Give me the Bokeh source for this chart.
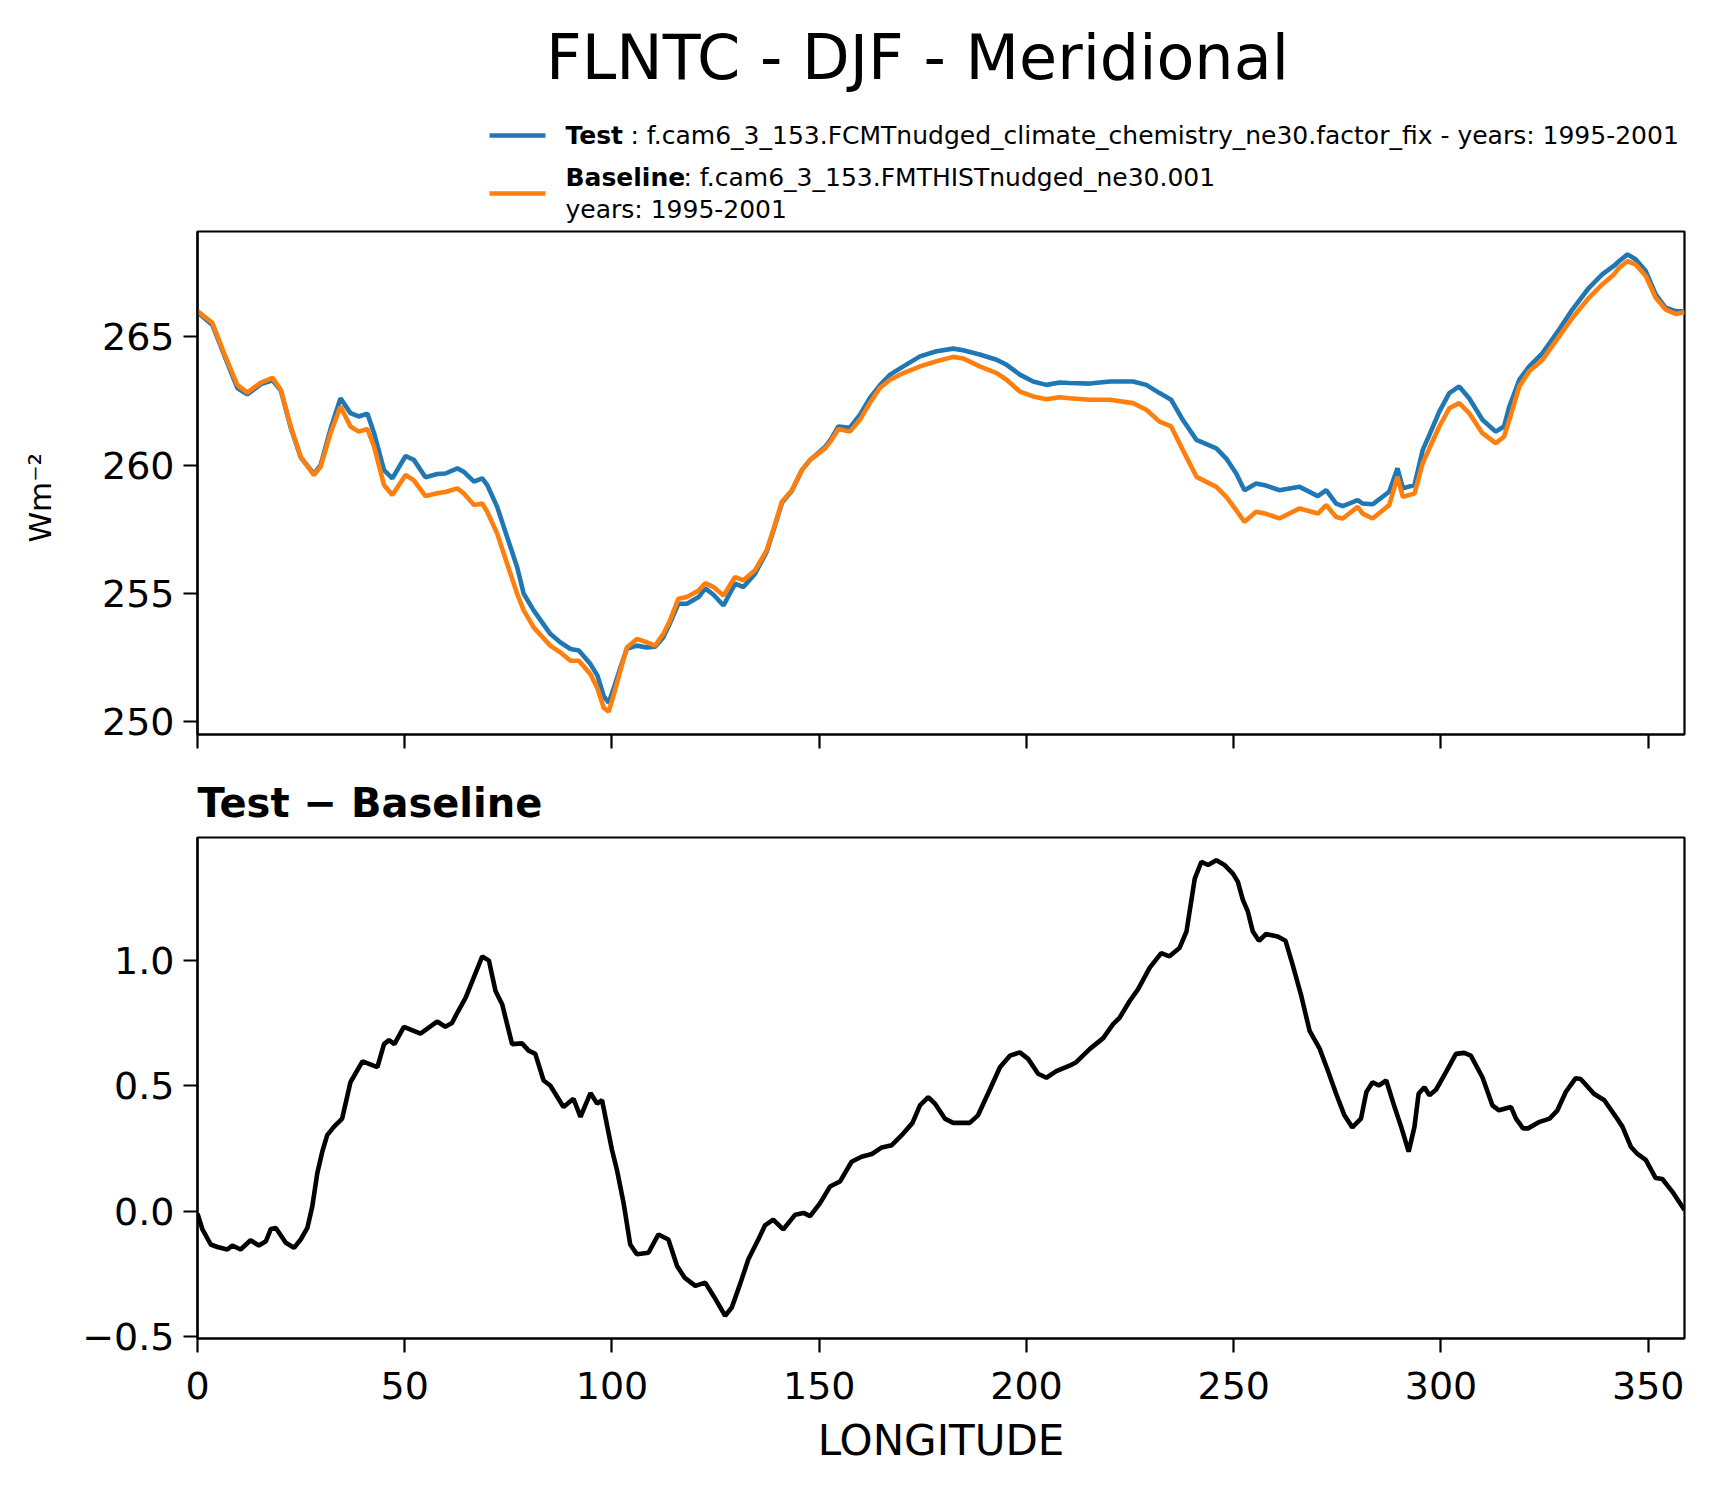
from bokeh.plotting import figure
from bokeh.models import Range1d, FixedTicker, CustomJSTickFormatter
from bokeh.layouts import column
from bokeh.embed import file_html
from bokeh.resources import INLINE
from bokeh.core.properties import value

# ---------------- data ----------------
title_text = "FLNTC - DJF - Meridional"
test_tag = "Test"
test_name = "f.cam6_3_153.FCMTnudged_climate_chemistry_ne30.factor_fix - years: 1995-2001"
base_tag = "Baseline"
base_name = "f.cam6_3_153.FMTHISTnudged_ne30.001"
base_years = "years: 1995-2001"
diff_title = "Test \u2212 Baseline"
x_label = "LONGITUDE"
y_label = "Wm\u207b\u00b2"

lon = [0.0, 3.6, 6.4, 9.6, 12.0, 15.3, 18.1, 20.1, 22.5, 24.9, 28.1, 29.7, 32.1, 34.5, 36.9,
       38.9, 41.0, 42.6, 45.0, 47.0, 50.2, 52.2, 55.0, 57.8, 59.8, 62.7, 64.2, 66.7, 68.7, 69.9,
       72.3, 74.7, 77.1, 78.7, 81.1, 85.1, 87.5, 90.0, 92.0, 94.8, 96.5, 98.0, 99.2, 100.5, 102.0,
       103.6, 106.0, 108.4, 110.4, 112.4, 114.0, 116.0, 118.1, 120.9, 122.5, 124.5, 126.9, 129.7,
       131.7, 134.5, 137.3, 138.9, 141.0, 143.4, 145.8, 147.8, 151.4, 153.0, 154.6, 157.4, 159.8,
       162.2, 164.6, 167.1, 170.3, 174.3, 178.3, 182.3, 184.7, 188.7, 192.8, 195.2, 198.4, 201.6,
       204.8, 208.0, 210.4, 215.3, 220.1, 225.7, 228.9, 232.1, 234.9, 237.7, 241.0, 245.8, 248.2,
       250.6, 252.6, 255.4, 257.8, 261.0, 265.9, 270.3, 272.3, 274.7, 276.3, 279.9, 281.1, 283.5,
       287.5, 289.5, 290.8, 293.6, 295.6, 297.2, 299.6, 302.0, 304.4, 306.8, 310.0, 313.2, 315.2,
       316.5, 318.9, 321.3, 324.5, 328.5, 331.7, 335.7, 338.9, 341.7, 343.0, 345.0, 347.0, 349.4,
       351.8, 354.2, 356.6, 358.75]

test = [265.95, 265.45, 264.30, 263.00, 262.75, 263.15, 263.30, 262.90, 261.45, 260.30, 259.65,
        260.00, 261.40, 262.60, 262.02, 261.89, 262.00, 261.24, 259.80, 259.48, 260.35, 260.20,
        259.52, 259.65, 259.67, 259.87, 259.74, 259.35, 259.48, 259.22, 258.37, 257.20, 256.03,
        254.99, 254.34, 253.43, 253.10, 252.84, 252.78, 252.25, 251.80, 251.00, 250.75, 251.35,
        252.10, 252.85, 252.97, 252.90, 252.93, 253.30, 253.85, 254.60, 254.60, 254.86, 255.20,
        254.95, 254.53, 255.38, 255.25, 255.77, 256.62, 257.42, 258.53, 259.00, 259.80, 260.20,
        260.70, 261.05, 261.50, 261.45, 261.95, 262.60, 263.10, 263.52, 263.84, 264.23, 264.43,
        264.53, 264.47, 264.30, 264.10, 263.90, 263.52, 263.25, 263.12, 263.21, 263.19, 263.17,
        263.25, 263.25, 263.12, 262.80, 262.54, 261.76, 260.98, 260.65, 260.25, 259.67, 259.02,
        259.28, 259.20, 259.02, 259.15, 258.79, 259.02, 258.50, 258.40, 258.63, 258.50, 258.47,
        258.96, 259.87, 259.09, 259.22, 260.59, 261.17, 262.08, 262.80, 263.06, 262.60, 261.76,
        261.30, 261.50, 262.28, 263.32, 263.84, 264.36, 265.27, 266.05, 266.90, 267.42, 267.75,
        267.94, 268.20, 268.00, 267.55, 266.64, 266.12, 265.99, 265.97]

base = [265.99, 265.53, 264.36, 263.12, 262.82, 263.21, 263.39, 262.93, 261.50, 260.32, 259.61,
        259.93, 261.24, 262.28, 261.50, 261.30, 261.40, 260.71, 259.22, 258.83, 259.61, 259.40,
        258.79, 258.90, 258.95, 259.09, 258.90, 258.44, 258.50, 258.18, 257.33, 256.16, 254.99,
        254.34, 253.68, 252.97, 252.71, 252.38, 252.38, 251.86, 251.30, 250.55, 250.40, 251.10,
        251.99, 252.90, 253.23, 253.10, 252.97, 253.43, 253.95, 254.79, 254.86, 255.12, 255.40,
        255.25, 254.92, 255.64, 255.51, 255.90, 256.68, 257.46, 258.57, 259.02, 259.80, 260.20,
        260.65, 260.98, 261.40, 261.30, 261.76, 262.41, 263.00, 263.32, 263.58, 263.84, 264.04,
        264.21, 264.15, 263.84, 263.58, 263.32, 262.86, 262.67, 262.56, 262.64, 262.60, 262.54,
        262.54, 262.41, 262.15, 261.69, 261.50, 260.59, 259.54, 259.15, 258.76, 258.24, 257.79,
        258.18, 258.10, 257.92, 258.31, 258.11, 258.44, 257.98, 257.92, 258.37, 258.11, 257.92,
        258.44, 259.54, 258.76, 258.89, 260.07, 260.65, 261.50, 262.21, 262.41, 262.02, 261.24,
        260.85, 261.10, 261.76, 263.06, 263.65, 264.10, 265.01, 265.73, 266.51, 267.03, 267.42,
        267.68, 267.94, 267.80, 267.36, 266.51, 266.05, 265.88, 265.95]

diff_lon = [0.0, 1.2, 3.2, 4.8, 7.2, 8.4, 10.4, 12.8, 14.8, 16.5, 17.7, 18.9, 21.3, 23.3, 24.9,
            26.5, 27.7, 28.9, 30.1, 31.3, 32.9, 34.9, 36.9, 39.8, 43.4, 45.0, 46.2, 47.5, 49.8,
            53.8, 57.8, 59.8, 61.4, 62.7, 64.7, 66.3, 68.7, 70.3, 71.9, 73.5, 75.9, 78.3, 79.9,
            81.5, 83.5, 85.1, 88.3, 90.7, 92.4, 94.8, 96.4, 97.6, 100.0, 101.2, 102.8, 104.4,
            106.0, 108.8, 111.2, 113.6, 115.7, 117.5, 120.1, 122.5, 124.5, 127.3, 128.9, 130.9,
            132.9, 135.3, 136.9, 138.9, 141.3, 144.2, 146.2, 147.8, 150.2, 152.6, 155.0, 157.8,
            160.2, 162.7, 165.1, 167.5, 169.9, 172.5, 174.3, 176.3, 177.9, 180.3, 182.3, 186.3,
            188.3, 190.7, 193.6, 196.0, 198.4, 200.4, 202.8, 204.8, 207.2, 210.4, 212.0, 215.3,
            218.5, 220.9, 222.5, 224.9, 226.9, 229.7, 232.5, 234.5, 236.9, 238.6, 240.6, 242.2,
            243.8, 245.8, 247.8, 249.8, 251.0, 252.2, 253.4, 254.6, 256.1, 257.8, 260.6, 262.5,
            264.2, 266.3, 268.3, 270.7, 272.7, 274.7, 276.7, 278.6, 280.7, 282.0, 283.5, 285.0,
            286.8, 288.8, 290.4, 292.2, 293.6, 294.6, 296.0, 297.2, 298.8, 301.2, 303.6, 305.6,
            307.2, 310.0, 312.4, 314.0, 316.9, 318.1, 319.8, 321.0, 323.8, 326.2, 328.1, 330.1,
            332.5, 333.7, 336.9, 339.4, 342.2, 343.8, 345.8, 347.4, 349.4, 351.8, 353.4, 355.8,
            358.75]

diff = [-0.010, -0.073, -0.133, -0.143, -0.153, -0.137, -0.153, -0.116, -0.137, -0.120, -0.071,
        -0.067, -0.126, -0.146, -0.113, -0.067, 0.019, 0.151, 0.237, 0.303, 0.336, 0.369, 0.514,
        0.597, 0.574, 0.666, 0.682, 0.666, 0.735, 0.708, 0.756, 0.735, 0.750, 0.792, 0.851,
        0.917, 1.016, 0.999, 0.878, 0.825, 0.666, 0.669, 0.640, 0.627, 0.521, 0.501, 0.415,
        0.448, 0.376, 0.471, 0.429, 0.442, 0.244, 0.164, 0.032, -0.133, -0.172, -0.166, -0.093,
        -0.113, -0.219, -0.265, -0.298, -0.285, -0.338, -0.417, -0.384, -0.291, -0.192, -0.113,
        -0.057, -0.034, -0.073, -0.014, -0.007, -0.020, 0.032, 0.098, 0.118, 0.197, 0.217,
        0.228, 0.254, 0.263, 0.303, 0.352, 0.422, 0.455, 0.429, 0.369, 0.352, 0.352, 0.382,
        0.468, 0.574, 0.620, 0.633, 0.607, 0.548, 0.532, 0.558, 0.580, 0.594, 0.647, 0.690,
        0.746, 0.772, 0.838, 0.884, 0.970, 1.029, 1.016, 1.049, 1.115, 1.326, 1.393, 1.380,
        1.399, 1.380, 1.346, 1.313, 1.241, 1.195, 1.115, 1.078, 1.105, 1.095, 1.078, 0.983,
        0.858, 0.719, 0.649, 0.561, 0.468, 0.382, 0.334, 0.369, 0.475, 0.514, 0.501, 0.521,
        0.415, 0.336, 0.237, 0.336, 0.468, 0.494, 0.462, 0.484, 0.554, 0.627, 0.631, 0.620,
        0.534, 0.422, 0.402, 0.415, 0.369, 0.330, 0.330, 0.356, 0.369, 0.402, 0.475, 0.530,
        0.527, 0.468, 0.442, 0.376, 0.336, 0.257, 0.228, 0.204, 0.132, 0.128, 0.078, 0.005]

x_ticks = [0, 50, 100, 150, 200, 250, 300, 350]
top_y_ticks = [250, 255, 260, 265]
bot_y_ticks = [-0.5, 0.0, 0.5, 1.0]

# ---------------- style / layout ----------------
FONT = "DejaVu Sans"
BLUE = "#1f77b4"
ORANGE = "#ff7f0e"
W = 1717
BL, BR = 197, 33          # frame borders left / right
HH = 228                  # header height
H1 = 536                  # top panel height
H2 = 732                  # bottom panel height
LW = 4.6
SPINE = 2.2
TICK_FS = "38px"


def padded(vals):
    lo, hi = min(vals), max(vals)
    pad = 0.05 * (hi - lo)
    return lo - pad, hi + pad


# ---------------- header (title + legend), pixel coordinates ----------------
hdr = figure(width=W, height=HH, x_range=Range1d(BL, W - BR), y_range=Range1d(HH, 0),
             toolbar_location=None, output_backend="svg",
             x_axis_location=None, y_axis_location=None,
             min_border_left=BL, min_border_right=BR, min_border_top=0, min_border_bottom=0)
hdr.outline_line_color = None
hdr.xgrid.visible = False
hdr.ygrid.visible = False
hdr.text(x=[917], y=[57], text=[title_text], text_font=value(FONT), text_font_size="62px",
         text_align="center", text_baseline="alphabetic", text_color="black")
hdr.segment(x0=[489, 489], y0=[135, 193], x1=[545, 545], y1=[135, 193],
            line_color=[BLUE, ORANGE], line_width=LW)
hdr.text(x=[565, 565], y=[135, 177], text=[test_tag, base_tag], text_font=value(FONT),
         text_font_size="25px", text_font_style="bold", text_baseline="alphabetic",
         text_color="black")
hdr.text(x=[630, 683, 565], y=[135, 177, 209],
         text=[": " + test_name, ": " + base_name, base_years],
         text_font=value(FONT), text_font_size="25px", text_baseline="alphabetic",
         text_color="black")

# ---------------- shared x range ----------------
xr = Range1d(0, max(lon))


def style(p):
    p.grid.visible = False
    p.outline_line_color = "black"
    p.outline_line_width = SPINE
    p.outline_line_alpha = 1.0
    for ax in p.axis:
        ax.axis_line_width = SPINE
        ax.axis_line_color = "black"
        ax.major_tick_out = 14
        ax.major_tick_in = 0
        ax.major_tick_line_width = SPINE
        ax.major_tick_line_color = "black"
        ax.minor_tick_out = 0
        ax.minor_tick_in = 0
        ax.major_label_text_font = FONT
        ax.major_label_text_font_size = TICK_FS
        ax.major_label_text_color = "black"
        ax.axis_label_text_font = FONT
        ax.axis_label_text_font_style = "normal"
        ax.axis_label_text_color = "black"
    for ax in p.yaxis:
        ax.major_label_standoff = 9


# ---------------- top panel ----------------
tlo, thi = padded(test + base)
top = figure(width=W, height=H1, x_range=xr, y_range=Range1d(tlo, thi),
             toolbar_location=None, output_backend="svg",
             min_border_left=BL, min_border_right=BR, min_border_top=3, min_border_bottom=30)
top.line(lon, test, line_color=BLUE, line_width=LW)
top.line(lon, base, line_color=ORANGE, line_width=LW)
style(top)
top.xaxis.ticker = FixedTicker(ticks=x_ticks)
top.xaxis.formatter = CustomJSTickFormatter(code="return '';")
top.xaxis.major_label_text_font_size = "1px"
top.xaxis.major_label_standoff = 0
top.yaxis.ticker = FixedTicker(ticks=top_y_ticks)
top.yaxis.formatter = CustomJSTickFormatter(code="return tick.toFixed(0);")
top.yaxis.axis_label = y_label + "\u00a0\u00a0\u00a0"
top.yaxis.axis_label_text_font_size = "31px"
top.yaxis.axis_label_standoff = 41

# ---------------- bottom panel ----------------
blo, bhi = padded(diff)
bot = figure(width=W, height=H2, x_range=xr, y_range=Range1d(blo, bhi),
             toolbar_location=None, output_backend="svg",
             min_border_left=BL, min_border_right=BR, min_border_top=73, min_border_bottom=158)
bot.line(diff_lon, diff, line_color="black", line_width=LW)
style(bot)
bot.title.text = diff_title
bot.title.align = "left"
bot.title.text_font = FONT
bot.title.text_font_size = "40px"
bot.title.text_font_style = "bold"
bot.title.text_color = "black"
bot.title.standoff = 23
bot.xaxis.ticker = FixedTicker(ticks=x_ticks)
bot.xaxis.formatter = CustomJSTickFormatter(code="return tick.toFixed(0);")
bot.xaxis.major_label_standoff = 19
bot.xaxis.axis_label = x_label
bot.xaxis.axis_label_text_font_size = "42px"
bot.xaxis.axis_label_standoff = 14
bot.yaxis.ticker = FixedTicker(ticks=bot_y_ticks)
bot.yaxis.formatter = CustomJSTickFormatter(
    code="return tick.toFixed(1).replace('-', '\\u2212');")

layout = column(hdr, top, bot, spacing=0)
open("out.html", "w").write(file_html(layout, INLINE))
